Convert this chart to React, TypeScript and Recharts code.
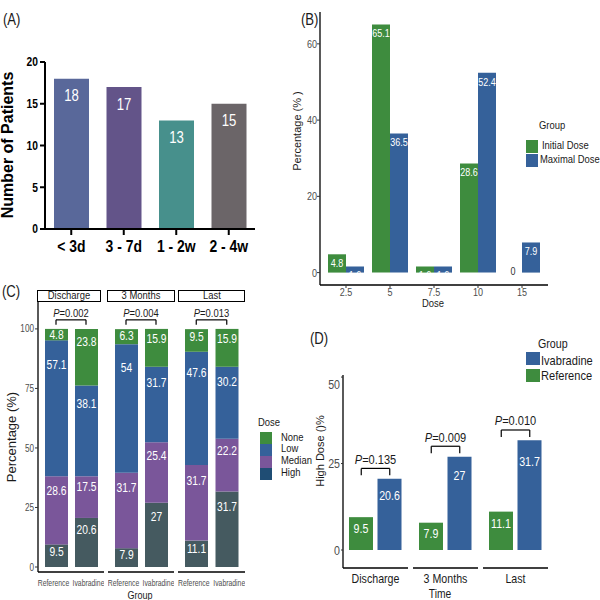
import React from "react";
import { BarChart, Bar, XAxis, YAxis, Cell, LabelList, ReferenceLine, ReferenceDot } from "recharts";

const SANS = "'Liberation Sans', Arial, sans-serif";
const SQ = 0.82; // the figure's text is horizontally condensed

const GREEN = "#3e8c3e";
const BLUE = "#35619a";
const PURPLE = "#7a569a";
const SLATE = "#455a60";
const TICK = "#4d4d4d";

// (A) time to ivabradine start
const onsetLabels = ["< 3d", "3 - 7d", "1 - 2w", "2 - 4w"];
const onsetPatients = [18, 17, 13, 15];
const onsetColors = ["#59689a", "#635489", "#47908c", "#6b6568"];

// (B) dose distribution
const doseLevels = ["2.5", "5", "7.5", "10", "15"];
const initialDose = [4.8, 65.1, 1.6, 28.6, 0];
const maximalDose = [1.6, 36.5, 1.6, 52.4, 7.9];

// (C) dose category per period, [Reference, Ivabradine]
const periods = ["Discharge", "3 Months", "Last"];
const groups = ["Reference", "Ivabradine"];
const doseNone = [[4.8, 23.8], [6.3, 15.9], [9.5, 15.9]];
const doseLow = [[57.1, 38.1], [54, 31.7], [47.6, 30.2]];
const doseMedian = [[28.6, 17.5], [31.7, 25.4], [31.7, 22.2]];
const doseHigh = [[9.5, 20.6], [7.9, 27], [11.1, 31.7]];
const pStacked = ["0.002", "0.004", "0.013"];
const bracketC = 103.8;
const bracketLegC = 101.7;

// (D) high dose share
const highDoseRef = [9.5, 7.9, 11.1];
const highDoseIva = [20.6, 27, 31.7];
const pHigh = ["0.135", "0.009", "0.010"];

const domainC: [number, number] = [-2.1, 111.3];
const domainD: [number, number] = [-5.2, 50.6];

function Txt({ x, y, children, size = 12, anchor = "start", rotate = false, bold = false, color = "#1a1a1a" }: any) {
  let transform = "";
  let origin = "50% 50%";
  if (rotate) transform = "translate(-50%,-50%) rotate(-90deg)";
  else if (anchor === "middle") transform = `translate(-50%,-50%) scaleX(${SQ})`;
  else {
    transform = `translate(0,-50%) scaleX(${SQ})`;
    origin = "0 50%";
  }
  return (
    <div
      style={{
        position: "absolute",
        left: x,
        top: y,
        transform,
        transformOrigin: origin,
        fontSize: size,
        fontFamily: SANS,
        fontWeight: bold ? 700 : 400,
        color,
        lineHeight: 1,
        whiteSpace: "nowrap",
      }}
    >
      {children}
    </div>
  );
}

function NText({ x, y, size, anchor = "middle", fill = "#1a1a1a", weight = 400, dy, sq = SQ, children }: any) {
  return (
    <g transform={`translate(${x},${y}) scale(${sq},1)`}>
      <text x={0} y={0} dy={dy} fontSize={size} fontFamily={SANS} fontWeight={weight} textAnchor={anchor} fill={fill}>
        {children}
      </text>
    </g>
  );
}

const xTick = (size: number, fill: string, weight = 400, sq = SQ, spread = 0) => (p: any) => (
  <NText x={p.x + (p.index === 0 ? -spread : spread)} y={p.y} dy="0.71em" size={size} fill={fill} weight={weight} sq={sq}>
    {p.payload.value}
  </NText>
);

const yTick = (size: number, fill: string, weight = 400) => (p: any) => (
  <NText x={p.x} y={p.y} dy="0.355em" anchor="end" size={size} fill={fill} weight={weight}>
    {p.payload.value}
  </NText>
);

function Swatch({ x, y, w = 12, h = 12, color }: any) {
  return <div style={{ position: "absolute", left: x, top: y, width: w, height: h, background: color }} />;
}

function PLabel(props: any) {
  const { viewBox, p, lift, size } = props;
  if (!viewBox) return null;
  const cx = viewBox.x + (viewBox.width || 0) / 2;
  return (
    <NText x={cx} y={viewBox.y - lift} size={size}>
      <tspan fontStyle="italic">P</tspan>
      <tspan>={p}</tspan>
    </NText>
  );
}

function FacetName(props: any) {
  const { viewBox, text } = props;
  if (!viewBox) return null;
  return (
    <NText x={viewBox.x + viewBox.width / 2} y={viewBox.y + 10} dy="0.355em" size={13}>
      {text}
    </NText>
  );
}

function ZeroLabel(props: any) {
  const { viewBox, shift } = props;
  if (!viewBox) return null;
  return (
    <NText x={viewBox.x + (viewBox.width || 0) / 2 + shift} y={viewBox.y - 2} dy="0.355em" size={11} fill="#333">
      0
    </NText>
  );
}

const box = (p: any) => {
  const h = Math.abs(p.height);
  const top = p.height < 0 ? p.y + p.height : p.y;
  return { cx: p.x + p.width / 2, top, h };
};

function PanelA() {
  const data = onsetLabels.map((k, i) => ({ k, n: onsetPatients[i] }));
  return (
    <div style={{ position: "absolute", left: 0, top: 0 }}>
      <BarChart width={270} height={270} data={data} margin={{ top: 62, right: 15, left: 0, bottom: 0 }}>
        <XAxis
          dataKey="k"
          height={41}
          interval={0}
          axisLine={{ stroke: "#000", strokeWidth: 2 }}
          tickLine={{ stroke: "#000", strokeWidth: 2 }}
          tickSize={6}
          tickMargin={5}
          tick={xTick(17, "#000", 700)}
        />
        <YAxis
          domain={[0, 20]}
          ticks={[0, 5, 10, 15, 20]}
          width={45}
          axisLine={{ stroke: "#000", strokeWidth: 2 }}
          tickLine={{ stroke: "#000", strokeWidth: 2 }}
          tickSize={5}
          tickMargin={2}
          tick={yTick(12.5, "#000", 700)}
        />
        <Bar dataKey="n" barSize={35} isAnimationActive={false}>
          {data.map((d, i) => (
            <Cell key={d.k} fill={onsetColors[i]} />
          ))}
          <LabelList
            dataKey="n"
            content={(p: any) => {
              const b = box(p);
              return (
                <NText x={b.cx} y={b.top + 17} dy="0.355em" size={16} fill="#fff">
                  {p.value}
                </NText>
              );
            }}
          />
        </Bar>
      </BarChart>
    </div>
  );
}

function doseLabel(p: any) {
  if (Number(p.value) === 0) return null;
  const b = box(p);
  return (
    <NText x={b.cx} y={b.top + 9} dy="0.355em" size={11} fill="#fff">
      {p.value}
    </NText>
  );
}

function PanelB() {
  const data = doseLevels.map((d, i) => ({ d, initial: initialDose[i], maximal: maximalDose[i] }));
  return (
    <div style={{ position: "absolute", left: 280, top: 0 }}>
      <BarChart width={290} height={310} data={data} margin={{ top: 12, right: 22, left: 0, bottom: 0 }} barGap={0}>
        <XAxis
          dataKey="d"
          height={25}
          interval={0}
          padding={{ left: 4, right: 4 }}
          axisLine={{ stroke: "#000", strokeWidth: 1.3 }}
          tickLine={{ stroke: "#333" }}
          tickSize={3}
          tickMargin={0}
          tick={xTick(11, TICK)}
        />
        <YAxis
          domain={[-3.255, 68.355]}
          ticks={[0, 20, 40, 60]}
          width={40}
          axisLine={{ stroke: "#000", strokeWidth: 1.3 }}
          tickLine={{ stroke: "#333" }}
          tickSize={3}
          tickMargin={0}
          tick={yTick(11, TICK)}
        />
        <Bar dataKey="initial" fill={GREEN} barSize={18} isAnimationActive={false}>
          <LabelList dataKey="initial" content={doseLabel} />
        </Bar>
        <Bar dataKey="maximal" fill={BLUE} barSize={18} isAnimationActive={false}>
          <LabelList dataKey="maximal" content={doseLabel} />
        </Bar>
        {data
          .filter((d) => d.initial === 0)
          .map((d) => (
            <ReferenceDot key={d.d} x={d.d} y={d.initial} r={0} fill="none" stroke="none" label={<ZeroLabel shift={-9} />} />
          ))}
      </BarChart>
    </div>
  );
}

function stackLabel(p: any) {
  const b = box(p);
  return (
    <NText x={b.cx} y={b.top + 0.15 * b.h + 4} dy="0.355em" size={12.5} fill="#fff">
      {p.value}
    </NText>
  );
}

const facetLeftC = [0, 108, 178];
const facetWidthC = [104, 66, 67];

function FacetC({ i }: { i: number }) {
  const data = groups.map((g, j) => ({
    g,
    high: doseHigh[i][j],
    median: doseMedian[i][j],
    low: doseLow[i][j],
    none: doseNone[i][j],
  }));
  const first = i === 0;
  return (
    <div style={{ position: "absolute", left: facetLeftC[i], top: 302 }}>
      <BarChart width={facetWidthC[i]} height={292} data={data} margin={{ top: 0, right: 0, left: 0, bottom: 0 }} style={{ overflow: "visible" }}>
        <XAxis
          dataKey="g"
          height={22}
          interval={0}
          padding={{ left: 3, right: 3 }}
          axisLine={{ stroke: "#000", strokeWidth: 1.3 }}
          tickLine={false}
          tickSize={6}
          tickMargin={2}
          tick={xTick(9, TICK, 400, 0.76, 2.5)}
        />
        {first ? (
          <YAxis
            domain={domainC}
            ticks={[0, 25, 50, 75, 100]}
            width={38}
            axisLine={{ stroke: "#000", strokeWidth: 1.3 }}
            tickLine={{ stroke: "#333" }}
            tickSize={3}
            tickMargin={1}
            tick={yTick(10, TICK)}
          />
        ) : (
          <YAxis hide domain={domainC} />
        )}
        <Bar dataKey="high" stackId="s" fill={SLATE} barSize={23} isAnimationActive={false}>
          <LabelList dataKey="high" content={stackLabel} />
        </Bar>
        <Bar dataKey="median" stackId="s" fill={PURPLE} barSize={23} isAnimationActive={false}>
          <LabelList dataKey="median" content={stackLabel} />
        </Bar>
        <Bar dataKey="low" stackId="s" fill={BLUE} barSize={23} isAnimationActive={false}>
          <LabelList dataKey="low" content={stackLabel} />
        </Bar>
        <Bar dataKey="none" stackId="s" fill={GREEN} barSize={23} isAnimationActive={false}>
          <LabelList dataKey="none" content={stackLabel} />
        </Bar>
        <ReferenceLine
          segment={[{ x: groups[0], y: bracketC }, { x: groups[1], y: bracketC }]}
          stroke="#000"
          strokeWidth={1.2}
          label={<PLabel p={pStacked[i]} lift={3} size={11.5} />}
        />
        <ReferenceLine segment={[{ x: groups[0], y: bracketC }, { x: groups[0], y: bracketLegC }]} stroke="#000" strokeWidth={1.2} />
        <ReferenceLine segment={[{ x: groups[1], y: bracketC }, { x: groups[1], y: bracketLegC }]} stroke="#000" strokeWidth={1.2} />
      </BarChart>
    </div>
  );
}

function highLabel(p: any) {
  const b = box(p);
  return (
    <NText x={b.cx} y={b.top + 0.13 * b.h + 7} dy="0.355em" size={13} fill="#fff">
      {p.value}
    </NText>
  );
}

const facetLeftD = [300, 413, 483];
const facetWidthD = [108, 65, 65];

function FacetD({ i }: { i: number }) {
  const vals = [highDoseRef[i], highDoseIva[i]];
  const data = groups.map((g, j) => ({ g, v: vals[j] }));
  const top = Math.max(...vals) + 3;
  const leg = Math.max(...vals) + 1;
  const first = i === 0;
  return (
    <div style={{ position: "absolute", left: facetLeftD[i], top: 375 }}>
      <BarChart width={facetWidthD[i]} height={218} data={data} margin={{ top: 0, right: 0, left: 0, bottom: 0 }}>
        <XAxis
          dataKey="g"
          height={25}
          padding={{ left: 4, right: 4 }}
          axisLine={{ stroke: "#000", strokeWidth: 1.3 }}
          tickLine={false}
          tick={false}
          label={<FacetName text={periods[i]} />}
        />
        {first ? (
          <YAxis
            domain={domainD}
            ticks={[0, 25, 50]}
            width={43}
            axisLine={{ stroke: "#000", strokeWidth: 1.3 }}
            tickLine={{ stroke: "#333" }}
            tickSize={2}
            tickMargin={1}
            tick={yTick(13, TICK)}
          />
        ) : (
          <YAxis hide domain={domainD} />
        )}
        <Bar dataKey="v" barSize={24} isAnimationActive={false}>
          <Cell fill={GREEN} />
          <Cell fill={BLUE} />
          <LabelList dataKey="v" content={highLabel} />
        </Bar>
        <ReferenceLine
          segment={[{ x: groups[0], y: top }, { x: groups[1], y: top }]}
          stroke="#000"
          strokeWidth={1.2}
          label={<PLabel p={pHigh[i]} lift={4.5} size={13.5} />}
        />
        <ReferenceLine segment={[{ x: groups[0], y: top }, { x: groups[0], y: leg }]} stroke="#000" strokeWidth={1.2} />
        <ReferenceLine segment={[{ x: groups[1], y: top }, { x: groups[1], y: leg }]} stroke="#000" strokeWidth={1.2} />
      </BarChart>
    </div>
  );
}

const stripsC = [
  { x: 37, w: 64 },
  { x: 107, w: 68 },
  { x: 178, w: 67 },
];

export default function App() {
  return (
    <div style={{ position: "absolute", left: 0, top: 0, width: 600, height: 600, background: "#fff", overflow: "hidden" }}>
      {/* panel letters */}
      <Txt x={3} y={20} size={16}>(A)</Txt>
      <Txt x={301} y={20} size={16}>(B)</Txt>
      <Txt x={2} y={292} size={16}>(C)</Txt>
      <Txt x={310} y={339} size={16}>(D)</Txt>

      <PanelA />
      <Txt x={8} y={145} size={16} bold rotate color="#000">Number of Patients</Txt>

      <PanelB />
      <Txt x={297} y={131} size={11} rotate>Percentage (% )</Txt>
      <Txt x={433} y={304} size={11.5} anchor="middle">Dose</Txt>
      <Txt x={539} y={126} size={11.5}>Group</Txt>
      <Swatch x={526} y={140} w={12} h={13} color={GREEN} />
      <Swatch x={526} y={154} w={12} h={13} color={BLUE} />
      <Txt x={542} y={146} size={11.5}>Initial Dose</Txt>
      <Txt x={540} y={160} size={11.5}>Maximal Dose</Txt>

      {stripsC.map((s, i) => (
        <div
          key={periods[i]}
          style={{
            position: "absolute",
            left: s.x,
            top: 290,
            width: s.w,
            height: 12,
            border: "1.3px solid #000",
            boxSizing: "border-box",
          }}
        />
      ))}
      {stripsC.map((s, i) => (
        <Txt key={"t" + periods[i]} x={s.x + s.w / 2} y={296} size={11.5} anchor="middle">
          {periods[i]}
        </Txt>
      ))}
      {periods.map((p, i) => (
        <FacetC key={p} i={i} />
      ))}
      <Txt x={11} y={437} size={13} rotate>Percentage (%)</Txt>
      <Txt x={140} y={595} size={11} anchor="middle">Group</Txt>
      <Txt x={258} y={423} size={11.5}>Dose</Txt>
      <Swatch x={260} y={432} color={GREEN} />
      <Swatch x={260} y={444} color={BLUE} />
      <Swatch x={260} y={456} color={PURPLE} />
      <Swatch x={260} y={468} color="#1f4d74" />
      <Txt x={281} y={438} size={11.5}>None</Txt>
      <Txt x={281} y={449} size={11.5}>Low</Txt>
      <Txt x={281} y={461} size={11.5}>Median</Txt>
      <Txt x={281} y={473} size={11.5}>High</Txt>

      {periods.map((p, i) => (
        <FacetD key={p} i={i} />
      ))}
      <Txt x={320} y={451} size={11} rotate>High Dose ()%</Txt>
      <Txt x={440} y={594} size={12.5} anchor="middle">Time</Txt>
      <Txt x={538} y={343} size={13}>Group</Txt>
      <Swatch x={526} y={352} w={14} h={13} color={BLUE} />
      <Swatch x={526} y={369} w={14} h={13} color={GREEN} />
      <Txt x={541} y={361} size={13.5}>Ivabradine</Txt>
      <Txt x={541} y={376} size={13.5}>Reference</Txt>
    </div>
  );
}
